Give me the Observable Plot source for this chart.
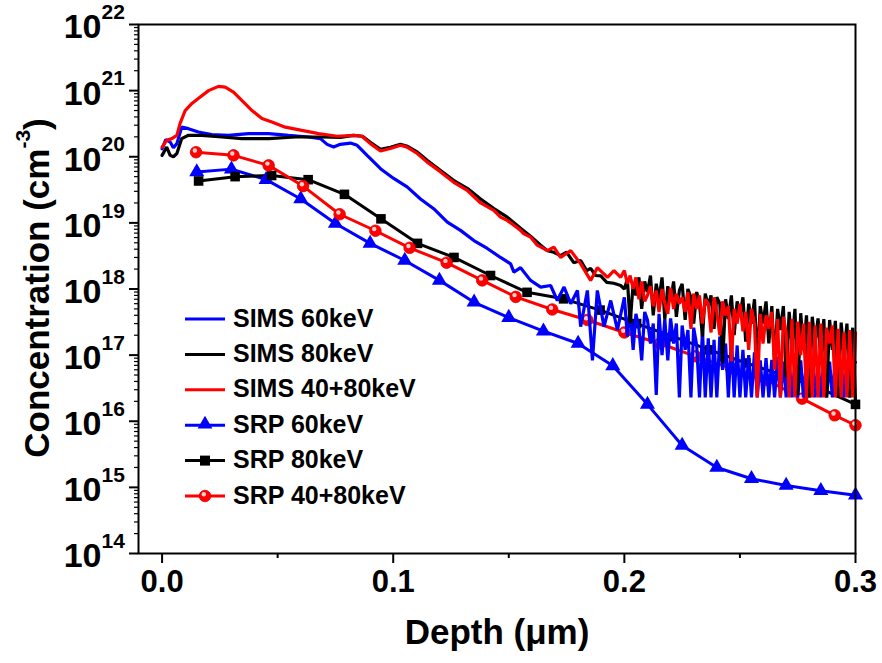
<!DOCTYPE html>
<html>
<head>
<meta charset="utf-8">
<script src="https://cdn.jsdelivr.net/npm/d3@7"></script>
<script src="https://cdn.jsdelivr.net/npm/@observablehq/plot@0.6"></script>
<style>
  html, body { margin: 0; padding: 0; background: #fff; }
  #chart { width: 882px; height: 663px; }
</style>
</head>
<body>
<div id="chart"></div>
<script>
// ---------- data (depth in µm, concentration in cm^-3) ----------
const xMajorTicks = [0, 0.1, 0.2, 0.3];
const xMinorTicks = [0.05, 0.15, 0.25];
const yMajorTicks = [1e14, 1e15, 1e16, 1e17, 1e18, 1e19, 1e20, 1e21, 1e22];
const yExponents = ["14", "15", "16", "17", "18", "19", "20", "21", "22"];

const seriesNames = ["SIMS 60keV", "SIMS 80keV", "SIMS 40+80keV", "SRP 60keV", "SRP 80keV", "SRP 40+80keV"];

// SIMS profiles, near-surface part (depth < 0.2 µm)
const simsDepth60 = [0, 0.0016, 0.0035, 0.0049, 0.0064, 0.0085, 0.0114, 0.0157, 0.0215, 0.0287, 0.0374, 0.0461, 0.0547, 0.0634, 0.0685, 0.0714, 0.0742, 0.0771, 0.0815, 0.0844, 0.0887, 0.0945, 0.1002, 0.1060, 0.1118, 0.1175, 0.1234, 0.1291, 0.1349, 0.1407, 0.1464, 0.1508, 0.1522, 0.1551, 0.1594, 0.1638, 0.1681, 0.1710, 0.1739, 0.1768, 0.1797, 0.1811, 0.1840, 0.1862, 0.1883, 0.1912, 0.1941, 0.1970];
const simsConc60 = [1.32e20, 1.82e20, 1.67e20, 1.37e20, 1.58e20, 2.81e20, 2.66e20, 2.37e20, 2.16e20, 2.11e20, 2.24e20, 2.24e20, 2.11e20, 1.99e20, 1.88e20, 1.54e20, 1.40e20, 1.54e20, 1.61e20, 1.49e20, 1.05e20, 6.6e19, 4.7e19, 3.5e19, 2.3e19, 1.64e19, 1.03e19, 7.7e18, 5.4e18, 4.1e18, 3.0e18, 2.4e18, 1.8e18, 2.1e18, 1.35e18, 1.07e18, 1.13e18, 6.7e17, 1.07e18, 6.0e17, 9.5e17, 2.7e17, 9.5e17, 8.3e16, 9.5e17, 2.7e17, 6.7e17, 2.4e17];

const simsDepth80 = [0, 0.0020, 0.0035, 0.0049, 0.0064, 0.0085, 0.0114, 0.0172, 0.0259, 0.0345, 0.0461, 0.0576, 0.0692, 0.0771, 0.0828, 0.0867, 0.0901, 0.0945, 0.0988, 0.1031, 0.1062, 0.1105, 0.1148, 0.1205, 0.1261, 0.1322, 0.1378, 0.1434, 0.1495, 0.1551, 0.1594, 0.1638, 0.1667, 0.1694, 0.1724, 0.1750, 0.1781, 0.1811, 0.1837, 0.1854, 0.1876, 0.1898, 0.1924, 0.1954, 0.1984];
const simsConc80 = [1.05e20, 1.40e20, 1.05e20, 1.0e20, 1.12e20, 1.88e20, 2.11e20, 2.11e20, 1.99e20, 1.88e20, 1.88e20, 1.99e20, 1.99e20, 1.96e20, 2.11e20, 2.04e20, 1.65e20, 1.29e20, 1.39e20, 1.54e20, 1.44e20, 1.17e20, 8.8e19, 6.2e19, 4.4e19, 3.3e19, 2.3e19, 1.66e19, 1.21e19, 8.3e18, 6.3e18, 4.6e18, 3.8e18, 3.6e18, 3.2e18, 3.6e18, 2.5e18, 2.7e18, 1.9e18, 2.05e18, 1.6e18, 1.58e18, 1.26e18, 1.22e18, 1.13e18];

const simsDepth4080 = [0, 0.0020, 0.0042, 0.0064, 0.0078, 0.0100, 0.0129, 0.0165, 0.0201, 0.0244, 0.0273, 0.0309, 0.0345, 0.0389, 0.0432, 0.0475, 0.0533, 0.0605, 0.0677, 0.0757, 0.0829, 0.0865, 0.0901, 0.0945, 0.0988, 0.1031, 0.1060, 0.1104, 0.1147, 0.1205, 0.1262, 0.1320, 0.1378, 0.1435, 0.1464, 0.1493, 0.1522, 0.1551, 0.1564, 0.1594, 0.1623, 0.1667, 0.1695, 0.1724, 0.1768, 0.1811, 0.1854, 0.1883, 0.1927, 0.1955, 0.1984];
const simsConc4080 = [1.40e20, 1.77e20, 1.88e20, 2.11e20, 3.2e20, 5.0e20, 6.4e20, 8.0e20, 1.0e21, 1.16e21, 1.13e21, 9.5e20, 7.1e20, 5.0e20, 3.8e20, 3.35e20, 2.8e20, 2.5e20, 2.24e20, 2.04e20, 2.11e20, 2.04e20, 1.58e20, 1.22e20, 1.33e20, 1.49e20, 1.40e20, 1.12e20, 8.3e19, 5.9e19, 4.1e19, 3.1e19, 2.0e19, 1.55e19, 1.22e19, 1.09e19, 9.2e18, 7.7e18, 6.9e18, 6.1e18, 4.6e18, 3.8e18, 4.3e18, 3.0e18, 3.8e18, 2.4e18, 1.35e18, 2.1e18, 1.5e18, 1.9e18, 1.5e18];

// SIMS profiles, noisy deep part (0.2 – 0.3 µm), shared depth samples
const simsTailDepth = [0.2000, 0.2013, 0.2025, 0.2038, 0.2050, 0.2063, 0.2075, 0.2088, 0.2100, 0.2113, 0.2125, 0.2138, 0.2150, 0.2163, 0.2175, 0.2188, 0.2200, 0.2213, 0.2225, 0.2238, 0.2250, 0.2263, 0.2275, 0.2288, 0.2300, 0.2313, 0.2325, 0.2338, 0.2350, 0.2363, 0.2375, 0.2388, 0.2400, 0.2413, 0.2425, 0.2438, 0.2450, 0.2463, 0.2475, 0.2488, 0.2500, 0.2513, 0.2525, 0.2538, 0.2550, 0.2563, 0.2575, 0.2588, 0.2600, 0.2613, 0.2625, 0.2638, 0.2650, 0.2663, 0.2675, 0.2688, 0.2700, 0.2713, 0.2725, 0.2738, 0.2750, 0.2763, 0.2775, 0.2788, 0.2800, 0.2813, 0.2825, 0.2838, 0.2850, 0.2863, 0.2875, 0.2888, 0.2900, 0.2913, 0.2925, 0.2938, 0.2950, 0.2963, 0.2975, 0.2988, 0.3000];
const simsTail60 = [7.5e17, 1.9e17, 5.0e17, 1.2e17, 4.2e17, 2.5e17, 8.3e16, 4.5e17, 3.4e17, 1.5e17, 3.0e17, 2.5e16, 4.2e17, 1.0e17, 3.5e17, 8.3e16, 3.6e17, 1.5e17, 3.0e17, 2.3e16, 2.8e17, 1.2e17, 2.4e17, 2.3e16, 2.6e17, 1.4e17, 2.3e16, 2.4e17, 2.3e16, 1.8e17, 2.3e16, 1.7e17, 2.3e16, 1.9e17, 6.0e16, 1.5e17, 2.3e16, 1.85e17, 2.3e16, 1.4e17, 2.3e16, 1.2e17, 2.3e16, 1.0e17, 2.3e16, 1.1e17, 2.3e16, 8.3e16, 2.3e16, 9.0e16, 2.3e16, 8.5e16, 2.3e16, 9.5e16, 2.3e16, 8.0e16, 2.3e16, 8.5e16, 2.3e16, 7.8e16, 2.3e16, 8.3e16, 2.3e16, 8.0e16, 2.3e16, 8.5e16, 2.3e16, 7.8e16, 2.3e16, 8.3e16, 2.3e16, 8.0e16, 2.3e16, 8.9e16, 2.3e16, 7.8e16, 2.3e16, 8.3e16, 2.3e16, 7.8e16, 7.8e16];
const simsTail80 = [1.0e18, 1.4e18, 3.0e17, 1.2e18, 8.0e17, 1.5e18, 5.0e17, 1.3e18, 9.0e17, 1.6e18, 4.0e17, 1.2e18, 7.0e17, 1.5e18, 3.5e17, 1.1e18, 6.5e17, 1.3e18, 3.8e17, 9.5e17, 1.2e18, 3.4e17, 1.0e18, 7.5e17, 3.0e17, 9.0e17, 6.0e17, 1.9e17, 8.5e17, 5.5e17, 8.0e17, 2.5e17, 7.5e17, 6.0e17, 7.5e16, 7.0e17, 3.5e17, 8.0e17, 2.0e17, 6.5e17, 4.0e17, 7.5e17, 1.6e17, 6.0e17, 3.0e17, 7.0e17, 7.5e16, 5.5e17, 3.0e17, 6.5e17, 1.5e17, 5.5e17, 7.5e16, 5.0e17, 2.4e17, 5.5e17, 4.6e16, 4.5e17, 1.4e17, 5.0e17, 2.5e16, 4.3e17, 1.2e17, 4.0e17, 2.3e16, 3.8e17, 1.5e17, 3.6e17, 8.3e16, 3.5e17, 2.3e16, 3.4e17, 1.2e17, 3.3e17, 2.3e16, 3.1e17, 1.0e17, 3.0e17, 2.3e16, 2.6e17, 1.86e16];
const simsTail4080 = [1.9e18, 1.2e18, 1.6e18, 1.0e18, 1.5e18, 7.0e17, 1.3e18, 6.5e17, 8.0e17, 1.1e18, 5.5e17, 9.5e17, 4.5e17, 1.0e18, 6.0e17, 4.2e17, 1.05e18, 5.0e17, 8.5e17, 6.0e17, 7.5e17, 4.5e17, 9.0e17, 2.5e17, 8.5e17, 5.0e17, 8.0e17, 3.0e17, 7.0e17, 6.0e17, 2.2e17, 7.5e17, 4.5e17, 2.0e17, 6.5e17, 4.0e17, 5.5e17, 8.0e16, 5.0e17, 3.0e17, 6.0e17, 2.3e17, 4.5e17, 1.2e17, 5.0e17, 3.0e17, 2.3e16, 4.2e17, 1.5e17, 4.0e17, 2.5e17, 4.5e17, 6.0e16, 3.5e17, 2.3e16, 3.8e17, 2.2e17, 2.3e16, 3.5e17, 2.3e16, 3.2e17, 1.0e17, 3.0e17, 2.3e16, 3.2e17, 2.3e16, 2.8e17, 2.3e16, 3.0e17, 2.3e16, 2.6e17, 1.5e17, 2.8e17, 2.3e16, 2.5e17, 2.3e16, 2.2e17, 2.3e16, 2.4e17, 2.3e16, 2.2e17];

// SRP profiles
const srpDepth60 = [0.015, 0.030, 0.045, 0.060, 0.075, 0.090, 0.105, 0.120, 0.135, 0.150, 0.165, 0.180, 0.195, 0.210, 0.225, 0.240, 0.255, 0.270, 0.285, 0.300];
const srpConc60 = [5.9e19, 6.5e19, 4.5e19, 2.3e19, 9.8e18, 4.9e18, 2.7e18, 1.35e18, 6.3e17, 3.7e17, 2.3e17, 1.5e17, 6.9e16, 1.8e16, 4.3e15, 2.0e15, 1.35e15, 1.07e15, 8.9e14, 7.6e14];

const srpDepth80 = [0.0158, 0.0316, 0.0474, 0.0632, 0.0789, 0.0947, 0.1105, 0.1263, 0.1421, 0.1579, 0.1737, 0.1895, 0.2053, 0.2211, 0.2368, 0.2526, 0.2684, 0.2842, 0.3000];
const srpConc80 = [4.3e19, 5.0e19, 5.2e19, 4.5e19, 2.7e19, 1.15e19, 4.9e18, 3.0e18, 1.6e18, 8.9e17, 7.1e17, 4.8e17, 3.0e17, 1.9e17, 1.2e17, 7.6e16, 5.0e16, 3.2e16, 1.8e16];

const srpDepth4080 = [0.0147, 0.0309, 0.0461, 0.0610, 0.0768, 0.0923, 0.1071, 0.1231, 0.1385, 0.1530, 0.1688, 0.1840, 0.2000, 0.2154, 0.2308, 0.2462, 0.2615, 0.2769, 0.2910, 0.3000];
const srpConc4080 = [1.17e20, 1.05e20, 7.4e19, 3.6e19, 1.35e19, 7.6e18, 4.2e18, 2.5e18, 1.35e18, 7.6e17, 4.9e17, 3.4e17, 2.2e17, 1.5e17, 9.6e16, 6.3e16, 4.2e16, 2.2e16, 1.23e16, 8.7e15];

// ---------- build tables ----------
const zip = (ds, cs) => ds.map((d, i) => ({depth: d, conc: cs[i]}));
const sims60 = zip(simsDepth60, simsConc60).concat(zip(simsTailDepth, simsTail60));
const sims80 = zip(simsDepth80, simsConc80).concat(zip(simsTailDepth, simsTail80));
const sims4080 = zip(simsDepth4080, simsConc4080).concat(zip(simsTailDepth, simsTail4080));
const srp60 = zip(srpDepth60, srpConc60);
const srp80 = zip(srpDepth80, srpConc80);
const srp4080 = zip(srpDepth4080, srpConc4080);

const yMinorTicks = [];
for (let e = 14; e < 22; e++) for (let m = 2; m <= 9; m++) yMinorTicks.push(m * Math.pow(10, e));

const FONT = "'Liberation Sans', Arial, Helvetica, sans-serif";
const BLUE = "#0000ff", RED = "#ff0000", BLACK = "#000000";
const xy = {x: "depth", y: "conc"};

const chart = Plot.plot({
  width: 882,
  height: 663,
  marginLeft: 138,
  marginRight: 27,
  marginTop: 24,
  marginBottom: 110,
  style: {fontFamily: FONT, fontWeight: "bold", background: "#fff", color: "#000"},
  x: {domain: [-0.0102, 0.3], label: null},
  y: {type: "log", domain: [1e14, 1e22], label: null},
  marks: [
    // SRP curves (underneath)
    Plot.line(srp60, {...xy, stroke: BLUE, strokeWidth: 3}),
    Plot.line(srp80, {...xy, stroke: BLACK, strokeWidth: 3}),
    Plot.line(srp4080, {...xy, stroke: RED, strokeWidth: 3}),
    Plot.dot(srp60, {...xy, symbol: "triangle", r: 5.6, fill: BLUE, stroke: null}),
    Plot.dot(srp80, {...xy, symbol: "square", r: 5.4, fill: BLACK, stroke: null}),
    Plot.dot(srp4080, {...xy, r: 5.8, fill: RED, stroke: "#e00000", strokeWidth: 0.8}),
    Plot.dot(srp4080, {...xy, r: 2.2, fill: "#ffd0d0", stroke: null, dx: -1.2, dy: -1.8}),
    // SIMS curves
    Plot.line(sims60, {...xy, stroke: BLUE, strokeWidth: 3.2, strokeLinejoin: "miter"}),
    Plot.line(sims80, {...xy, stroke: BLACK, strokeWidth: 3.2, strokeLinejoin: "miter"}),
    Plot.line(sims4080, {...xy, stroke: RED, strokeWidth: 3.2, strokeLinejoin: "miter"}),
    // axes
    Plot.axisX({ticks: xMinorTicks, tickSize: 5, tickFormat: () => "", strokeWidth: 2, label: null}),
    Plot.axisX({ticks: xMajorTicks, tickSize: 10, tickPadding: 6, tickFormat: d => d.toFixed(1), fontSize: 31, strokeWidth: 2, label: null}),
    Plot.axisY({ticks: yMinorTicks, tickSize: 4, tickFormat: () => "", strokeWidth: 1.2, label: null}),
    Plot.axisY({ticks: yMajorTicks, tickSize: 9, tickFormat: () => "", strokeWidth: 2, label: null}),
    Plot.text(yMajorTicks, {y: d => d, text: () => "10", frameAnchor: "left", textAnchor: "end", dx: -37, dy: 3, fontSize: 34, fontWeight: "bold"}),
    Plot.text(yMajorTicks, {y: d => d, text: (d, i) => yExponents[i], frameAnchor: "left", textAnchor: "start", dx: -37, dy: -12, fontSize: 21, fontWeight: "bold"}),
    Plot.text(["Depth (\u03bcm)"], {text: d => d, frameAnchor: "bottom", dy: 90, fontSize: 35, fontWeight: "bold"}),
    Plot.frame({stroke: BLACK, strokeWidth: 2})
  ]
});

document.getElementById("chart").appendChild(chart);

// ---------- y-axis title with superscript ----------
const svg = d3.select(chart);
const yTitle = svg.append("text")
  .attr("transform", "translate(36,288) rotate(-90)")
  .attr("text-anchor", "middle")
  .attr("dominant-baseline", "central")
  .attr("font-family", FONT)
  .attr("font-weight", "bold")
  .attr("font-size", 35)
  .attr("fill", "#000");
yTitle.append("tspan").text("Concentration (cm");
yTitle.append("tspan").attr("font-size", 21).attr("dy", -14).text("-3");
yTitle.append("tspan").attr("dy", 14).text(")");

// ---------- legend ----------
const legendItems = [
  {name: seriesNames[0], color: BLUE, marker: null},
  {name: seriesNames[1], color: BLACK, marker: null},
  {name: seriesNames[2], color: RED, marker: null},
  {name: seriesNames[3], color: BLUE, marker: "triangle"},
  {name: seriesNames[4], color: BLACK, marker: "square"},
  {name: seriesNames[5], color: RED, marker: "circle"}
];
const lg = svg.append("g").attr("font-family", FONT).attr("font-weight", "bold");
legendItems.forEach((it, i) => {
  const y = 319 + i * 35.4;
  const g = lg.append("g").attr("transform", `translate(0,${y})`);
  g.append("line").attr("x1", 185).attr("x2", 225).attr("y1", 0).attr("y2", 0)
    .attr("stroke", it.color).attr("stroke-width", 3);
  if (it.marker === "triangle") {
    g.append("path").attr("d", d3.symbol(d3.symbolTriangle, 95)()).attr("transform", "translate(205,-1)").attr("fill", it.color);
  } else if (it.marker === "square") {
    g.append("rect").attr("x", 200).attr("y", -5).attr("width", 10).attr("height", 10).attr("fill", it.color);
  } else if (it.marker === "circle") {
    g.append("circle").attr("cx", 205).attr("cy", 0).attr("r", 5.8).attr("fill", it.color).attr("stroke", "#e00000").attr("stroke-width", 0.8);
    g.append("circle").attr("cx", 203.8).attr("cy", -1.8).attr("r", 2.2).attr("fill", "#ffd0d0");
  }
  g.append("text").attr("x", 233).attr("y", 0).attr("dy", "0.3em")
    .attr("text-anchor", "start")
    .attr("font-size", 25).attr("fill", "#000").text(it.name);
});
</script>
</body>
</html>
